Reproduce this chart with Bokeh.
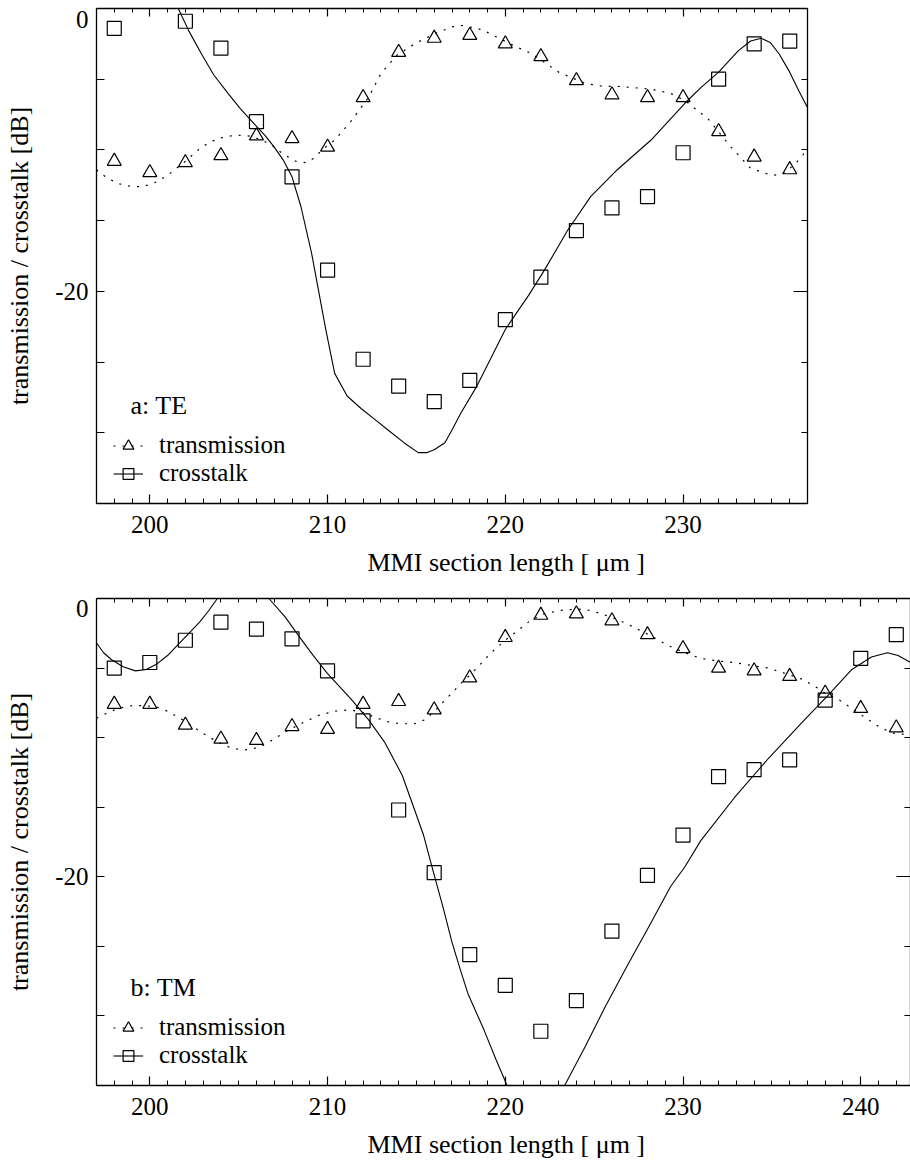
from bokeh.embed import file_html
from bokeh.models import FixedTicker, Label, Legend, LegendItem, LinearAxis, Title
from bokeh.plotting import figure
from bokeh.resources import INLINE

SERIF = "Liberation Serif"

# ---------------- a: TE polarisation ----------------
# measured points
te_len_trans = [198, 200, 202, 204, 206, 208, 210, 212, 214, 216,
                218, 220, 222, 224, 226, 228, 230, 232, 234, 236]
te_transmission = [-10.8, -11.6, -10.9, -10.4, -9.0, -9.2, -9.8, -6.3, -3.1, -2.1,
                   -1.9, -2.5, -3.4, -5.1, -6.1, -6.3, -6.3, -8.7, -10.5, -11.4]
te_len_cross = [198, 202, 204, 206, 208, 210, 212, 214, 216,
                218, 220, 222, 224, 226, 228, 230, 232, 234, 236]
te_crosstalk = [-1.4, -0.9, -2.8, -8.0, -11.9, -18.5, -24.8, -26.7, -27.8,
                -26.3, -22.0, -19.0, -15.7, -14.1, -13.3, -10.2, -5.0, -2.5, -2.3]

# simulated curves
te_sim_len_trans = [197.0, 197.6, 198.3, 199.0, 199.6, 200.3, 201.0, 202.0, 202.9, 203.8,
                    204.6, 205.3, 205.9, 206.8, 207.5, 208.2, 208.8, 209.2, 209.7, 210.4,
                    211.3, 212.3, 213.0, 213.9, 214.9, 216.0, 217.0, 217.6, 218.7, 219.8,
                    220.6, 221.5, 223.0, 224.5, 225.5, 226.3, 228.2, 229.3, 230.1, 231.4,
                    232.7, 233.8, 235.0, 235.6, 236.1, 236.6, 237.0]
te_sim_trans = [-11.4, -12.0, -12.4, -12.6, -12.6, -12.3, -11.8, -10.8, -9.8, -9.2,
                -9.0, -8.95, -9.1, -9.6, -10.3, -10.8, -10.9, -10.6, -10.0, -9.3,
                -8.0, -6.3, -4.6, -3.3, -2.5, -1.8, -1.3, -1.2, -1.5, -2.2,
                -2.7, -3.2, -4.5, -5.3, -5.5, -5.5, -5.7, -6.0, -6.5, -7.8,
                -9.8, -11.3, -11.8, -11.7, -11.2, -10.6, -9.9]
te_sim_len_cross = [201.0, 201.6, 202.2, 202.9, 203.6, 204.4, 205.1, 205.9, 206.5, 207.0,
                    207.5, 208.0, 208.5, 209.1, 209.5, 209.9, 210.4, 211.1, 211.9, 212.6,
                    213.4, 214.3, 215.1, 215.6, 216.0, 216.6, 217.0, 217.5, 218.4, 219.2,
                    220.0, 220.7, 221.3, 222.2, 223.5, 224.8, 226.3, 228.2, 230.1, 231.0,
                    232.0, 233.1, 233.8, 234.4, 234.9, 235.4, 236.0, 236.5, 237.0]
te_sim_cross = [1.8, 0.0, -1.6, -3.2, -4.7, -6.0, -7.1, -8.2, -9.0, -9.8,
                -10.7, -11.9, -14.0, -17.3, -20.0, -22.7, -25.8, -27.4, -28.3, -29.0,
                -29.8, -30.7, -31.4, -31.4, -31.2, -30.7, -29.8, -28.6, -26.7, -24.7,
                -22.7, -21.4, -20.3, -18.5, -15.7, -13.3, -11.4, -9.3, -6.7, -5.6,
                -4.5, -3.0, -2.3, -2.1, -2.4, -3.2, -4.5, -5.8, -7.0]

# ---------------- b: TM polarisation ----------------
tm_len = [198, 200, 202, 204, 206, 208, 210, 212, 214, 216, 218, 220,
          222, 224, 226, 228, 230, 232, 234, 236, 238, 240, 242]
tm_transmission = [-7.6, -7.6, -9.1, -10.1, -10.2, -9.2, -9.4, -7.6, -7.4, -8.0, -5.7, -2.8,
                   -1.2, -1.1, -1.6, -2.6, -3.6, -5.0, -5.2, -5.6, -6.8, -7.9, -9.3]
tm_crosstalk = [-5.0, -4.6, -3.0, -1.7, -2.2, -2.9, -5.2, -8.8, -15.2, -19.7, -25.6, -27.8,
                -31.1, -28.9, -23.9, -19.9, -17.0, -12.8, -12.3, -11.6, -7.3, -4.3, -2.6]

tm_sim_len_trans = [197.0, 197.3, 198.2, 199.0, 199.7, 200.4, 201.0, 201.7, 202.3, 203.0,
                    203.8, 204.5, 205.2, 205.8, 206.3, 207.0, 207.6, 208.5, 209.5, 210.4,
                    211.3, 212.0, 212.8, 213.5, 214.2, 214.9, 215.5, 216.1, 216.6, 217.0,
                    217.5, 218.1, 219.2, 220.0, 220.7, 221.4, 222.2, 223.1, 224.1, 224.8,
                    225.4, 226.3, 227.3, 228.2, 229.2, 230.1, 231.0, 232.0, 232.9, 233.8,
                    234.8, 235.8, 236.7, 237.4, 238.0, 238.8, 239.5, 240.3, 241.0, 241.5,
                    241.9, 242.8]
tm_sim_trans = [-8.6, -8.4, -7.9, -7.7, -7.7, -7.8, -8.1, -8.6, -9.1, -9.7,
                -10.3, -10.7, -10.9, -10.8, -10.6, -10.1, -9.6, -9.0, -8.4, -8.1,
                -8.0, -8.2, -8.6, -8.9, -9.0, -9.0, -8.7, -8.0, -7.3, -6.8,
                -6.1, -5.4, -3.9, -3.0, -2.3, -1.6, -1.1, -0.85, -0.76, -0.85,
                -1.1, -1.5, -2.1, -2.7, -3.4, -3.9, -4.3, -4.5, -4.6, -4.8,
                -5.0, -5.4, -5.8, -6.3, -6.8, -7.3, -7.9, -8.6, -9.2, -9.5,
                -9.7, -9.8]
tm_sim_len_cross = [197.0, 197.4, 197.85, 198.5, 199.2, 199.8, 200.4, 201.0, 201.6, 202.2,
                    202.8, 203.3, 203.8, 204.5, 205.2, 205.9, 206.7, 207.6, 208.5, 209.2,
                    210.0, 211.3, 212.3, 213.2, 214.2, 214.9, 215.4, 215.9, 216.5, 217.0,
                    217.5, 217.9, 218.8, 219.5, 220.0, 220.4,
                    222.9, 223.4, 224.5, 225.6, 226.9, 228.2, 229.3, 230.1, 231.0, 232.9,
                    234.8, 236.7, 238.2, 239.5, 240.6, 241.5, 242.1, 242.8]
tm_sim_cross = [-3.2, -3.9, -4.4, -4.9, -5.2, -5.1, -4.7, -4.1, -3.3, -2.5,
                -1.7, -0.9, 0.0, 1.0, 1.3, 1.0, 0.0, -1.3, -2.9, -4.1,
                -5.4, -7.2, -8.7, -10.3, -12.7, -15.2, -17.0, -19.4, -22.2, -24.7,
                -26.8, -28.4, -31.0, -33.2, -34.7, -36.0,
                -36.0, -34.85, -32.2, -29.4, -26.3, -23.3, -20.7, -19.3, -17.4, -14.3,
                -11.5, -8.9, -6.9, -5.1, -4.2, -3.9, -4.1, -4.6]

# y axis: the "0" label sits just inside the top edge
Y_LABEL_TICKS = [-20, -0.75]
Y_LABEL_TEXT = {-20: "-20", -0.75: "0"}
Y_MAJOR = [-20, 0]
Y_MINOR = [-35, -30, -25, -15, -10, -5]
X_LABEL = "MMI section length [ \u03bcm ]"
Y_LABEL = "transmission / crosstalk [dB]"


def axis(ticker, tick_in, minor_in, show_labels, overrides):
    ax = LinearAxis(
        ticker=ticker,
        axis_line_color="black", axis_line_width=1.3,
        major_tick_line_color="black", major_tick_line_width=1.2,
        minor_tick_line_color="black", minor_tick_line_width=1.0,
        major_tick_in=tick_in, major_tick_out=0,
        minor_tick_in=minor_in, minor_tick_out=0,
        major_label_text_font=SERIF,
        major_label_overrides=overrides,
    )
    if show_labels:
        ax.major_label_text_font_size = "25px"
        ax.major_label_text_color = "black"
        ax.major_label_standoff = 8
    else:
        # mirrored axis: tick marks only
        ax.major_label_text_font_size = "1px"
        ax.major_label_text_color = None
        ax.major_label_standoff = 0
    return ax


def panel(height, x_end, border_right, border_bottom, x_major,
          len_t, trans, len_c, cross, sim_len_t, sim_t, sim_len_c, sim_c, tag):
    p = figure(width=910, height=height, x_range=(197, x_end), y_range=(-35, 0),
               x_axis_type=None, y_axis_type=None,
               output_backend="svg", toolbar_location=None,
               min_border_left=96, min_border_right=border_right,
               min_border_top=8, min_border_bottom=border_bottom)
    p.outline_line_color = None
    p.background_fill_color = "white"
    p.border_fill_color = "white"

    xt = FixedTicker(ticks=x_major, minor_ticks=list(range(197, int(x_end) + 1)))
    yt = FixedTicker(ticks=Y_MAJOR, minor_ticks=Y_MINOR)
    yt_left = FixedTicker(ticks=Y_LABEL_TICKS, minor_ticks=Y_MINOR + [-20])

    bottom = axis(xt, 9, 5, True, {})
    bottom.major_label_standoff = 12
    p.add_layout(bottom, "below")
    p.add_layout(axis(xt, 8, 4, False, {t: "" for t in x_major}), "above")

    left = axis(yt_left, 0, 8, True, Y_LABEL_TEXT)
    left.axis_label = Y_LABEL
    left.axis_label_text_font = SERIF
    left.axis_label_text_font_size = "26px"
    left.axis_label_text_font_style = "normal"
    left.axis_label_text_color = "black"
    left.axis_label_standoff = 18
    p.add_layout(left, "left")
    p.add_layout(axis(yt, 14, 6, False, {t: "" for t in Y_MAJOR}), "right")

    p.add_layout(Title(text=X_LABEL, align="left", offset=271, vertical_align="middle",
                       text_font=SERIF, text_font_size="26px",
                       text_font_style="normal", text_color="black", standoff=22),
                 "below")

    r_tl = p.line(sim_len_t, sim_t, line_color="black", line_width=1.2, line_dash="2 7")
    r_cl = p.line(sim_len_c, sim_c, line_color="black", line_width=1.1)
    r_tm = p.scatter(len_t, trans, marker="triangle", size=14, fill_color=None,
                     line_color="black", line_width=1.2)
    r_cm = p.scatter(len_c, cross, marker="square", size=14, fill_color=None,
                     line_color="black", line_width=1.2)

    legend = Legend(
        items=[LegendItem(label="transmission", renderers=[r_tl, r_tm]),
               LegendItem(label="crosstalk", renderers=[r_cl, r_cm])],
        location=(17, 16), orientation="vertical",
        border_line_color=None, background_fill_alpha=0,
        padding=0, margin=0, spacing=0,
        glyph_width=30, glyph_height=27, label_height=27, label_standoff=16,
        label_text_font=SERIF, label_text_font_size="25px", label_text_color="black",
    )
    p.add_layout(legend)

    p.add_layout(Label(x=34, y=98, x_units="screen", y_units="screen", text=tag,
                       text_baseline="middle", text_font=SERIF, text_font_size="26px",
                       text_color="black"))
    return p


p_te = panel(590, 237, 103, 87, [200, 210, 220, 230],
             te_len_trans, te_transmission, te_len_cross, te_crosstalk,
             te_sim_len_trans, te_sim_trans, te_sim_len_cross, te_sim_cross, "a: TE")
p_tm = panel(580, 242.8, 0, 79, [200, 210, 220, 230, 240],
             tm_len, tm_transmission, tm_len, tm_crosstalk,
             tm_sim_len_trans, tm_sim_trans, tm_sim_len_cross, tm_sim_cross, "b: TM")

open("out.html", "w").write(file_html([p_te, p_tm], INLINE))
